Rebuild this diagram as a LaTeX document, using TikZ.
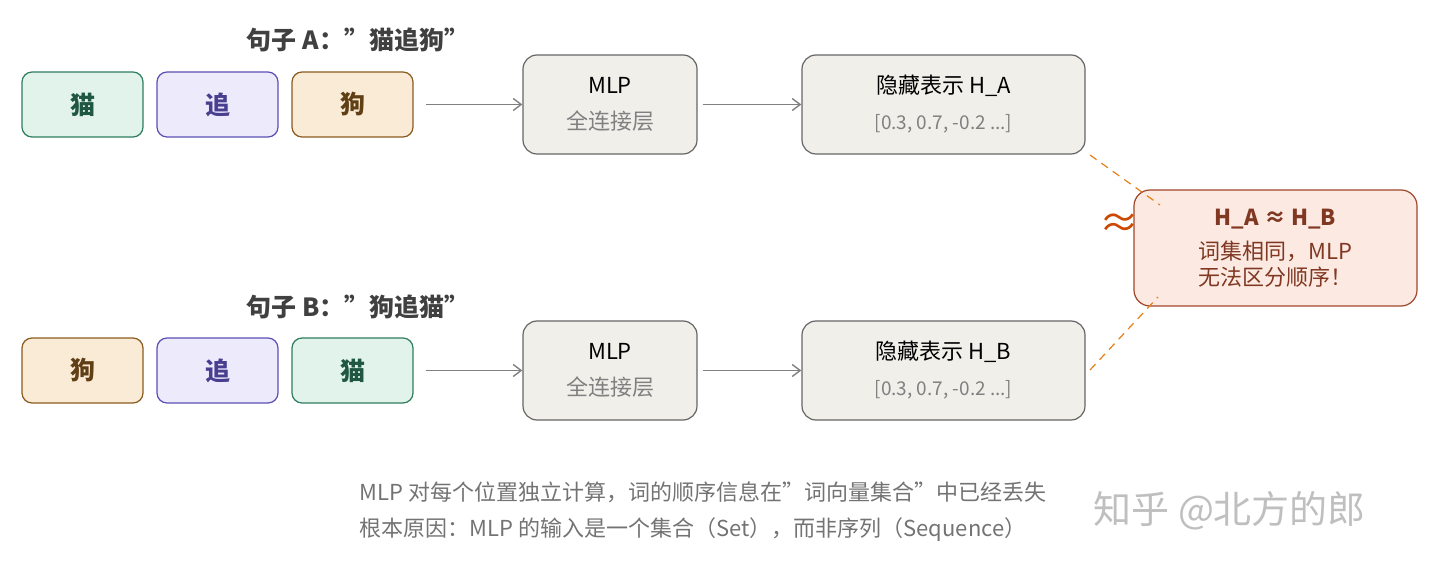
\documentclass[tikz,border=0pt]{standalone}
\usepackage{fontspec}
\setmainfont{Noto Sans CJK SC}
\usetikzlibrary{arrows.meta}
\begin{document}
\begin{tikzpicture}[x=1pt,y=-1pt,
 tok/.style={draw,rounded corners=10pt,line width=1.2pt,minimum width=121pt,minimum height=65pt,font=\fontsize{25}{28}\selectfont\bfseries},
 gbox/.style={draw=black!60,rounded corners=14pt,line width=1.2pt,align=center},
 arr/.style={draw=black!50,line width=1.4pt,-{Straight Barb[length=8pt,width=12pt]}},
 dashln/.style={draw=orange!60!brown,line width=1.2pt,dash pattern=on 8pt off 6pt}]
\useasboundingbox (0,0) rectangle (1440,569);
\definecolor{gA}{HTML}{E2F3EC}\definecolor{gAd}{HTML}{2E7D5E}
\definecolor{pA}{HTML}{ECEAFB}\definecolor{pAd}{HTML}{5B4FB5}
\definecolor{oA}{HTML}{FAEBD7}\definecolor{oAd}{HTML}{8A5A1E}
\definecolor{rA}{HTML}{FCEAE2}\definecolor{rAd}{HTML}{A0462A}
\definecolor{bx}{HTML}{F1EFEA}
\node[font=\fontsize{25}{28}\selectfont\bfseries,text=black!75] (tA) at (358,40) {句子 A：\symbol{34}猫追狗\symbol{34}};
\node[font=\fontsize{25}{28}\selectfont\bfseries,text=black!75] (tB) at (358,307) {句子 B：\symbol{34}狗追猫\symbol{34}};
\node[tok,draw=gAd,fill=gA,text=gAd!70!black] (a1) at (82.5,104.5) {猫};
\node[tok,draw=pAd,fill=pA,text=pAd!80!black] (a2) at (217.5,104.5) {追};
\node[tok,draw=oAd,fill=oA,text=oAd!70!black] (a3) at (352.5,104.5) {狗};
\node[tok,draw=oAd,fill=oA,text=oAd!70!black] (b1) at (82.5,370.5) {狗};
\node[tok,draw=pAd,fill=pA,text=pAd!80!black] (b2) at (217.5,370.5) {追};
\node[tok,draw=gAd,fill=gA,text=gAd!70!black] (b3) at (352.5,370.5) {猫};
\node[gbox,fill=bx,minimum width=174pt,minimum height=99pt,font=\fontsize{22}{36}\selectfont] (m1) at (610,104.5) {MLP\\\color{black!50}全连接层};
\node[gbox,fill=bx,minimum width=174pt,minimum height=99pt,font=\fontsize{22}{36}\selectfont] (m2) at (610,370.5) {MLP\\\color{black!50}全连接层};
\node[gbox,fill=bx,minimum width=283pt,minimum height=99pt,font=\fontsize{22}{36}\selectfont] (h1) at (943.5,104.5) {隐藏表示 H\_A\\\fontsize{19}{36}\selectfont\color{black!50}[0.3, 0.7, -0.2 ...]};
\node[gbox,fill=bx,minimum width=283pt,minimum height=99pt,font=\fontsize{22}{36}\selectfont] (h2) at (943.5,370.5) {隐藏表示 H\_B\\\fontsize{19}{36}\selectfont\color{black!50}[0.3, 0.7, -0.2 ...]};
\node[draw=rAd,fill=rA,rounded corners=16pt,line width=1.2pt,minimum width=283pt,minimum height=116pt,align=center,text=rAd!80!black,font=\fontsize{22}{26}\selectfont] (r) at (1275.5,248) {\bfseries H\_A ≈ H\_B\\[8pt] 词集相同，MLP\\ 无法区分顺序！};
\node[text=orange!70!red!80!black,font=\fontsize{40}{40}\selectfont] (ap) at (1119,226) {≈};
\draw[arr] (a3.east)++(12,0) coordinate (c1) -- (m1.west);
\draw[arr] (b3.east)++(12,0) coordinate (c2) -- (m2.west);
\draw[arr] (m1.east)++(5,0) coordinate (c3) -- (h1.west);
\draw[arr] (m2.east)++(5,0) coordinate (c4) -- (h2.west);
\coordinate (d1) at (1090,155);\coordinate (e1) at (1160,205);
\coordinate (d2) at (1090,370);\coordinate (e2) at (1158,297);
\draw[dashln] (d1) -- (e1);
\draw[dashln] (d2) -- (e2);
\node[anchor=west,text=black!55,font=\fontsize{22}{24}\selectfont] (f1) at (356,492) {MLP 对每个位置独立计算，词的顺序信息在\symbol{34}词向量集合\symbol{34}中已经丢失};
\node[anchor=west,text=black!55,font=\fontsize{22}{24}\selectfont] (f2) at (356,530) {根本原因：MLP 的输入是一个集合（Set），而非序列（Sequence）};
\node[anchor=west,text=black!25,font=\fontsize{38}{40}\selectfont] (wm) at (1090,511) {知乎 @北方的郎};
\end{tikzpicture}
\end{document}
